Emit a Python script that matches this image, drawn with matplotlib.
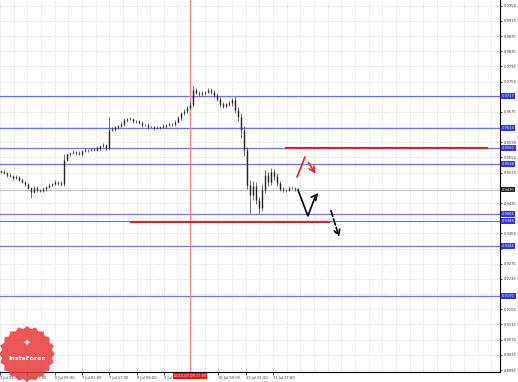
import numpy as np
import matplotlib.pyplot as plt
from matplotlib.patches import Polygon

# closes of the hourly bars (approximate)
closes = [0.9517, 0.9514, 0.9509, 0.9506, 0.9501, 0.9504, 0.9496, 0.9490, 0.9485, 0.9475,
          0.9464, 0.9475, 0.9469, 0.9467, 0.9472, 0.9477, 0.9483, 0.9485, 0.9490, 0.9488,
          0.9485, 0.9548, 0.9564, 0.9567, 0.9569, 0.9567, 0.9564, 0.9572, 0.9575, 0.9575,
          0.9577, 0.9575, 0.9580, 0.9585, 0.9588, 0.9580, 0.9627, 0.9630, 0.9635, 0.9638,
          0.9643, 0.9654, 0.9656, 0.9656, 0.9651, 0.9651, 0.9646, 0.9641, 0.9641, 0.9635,
          0.9635, 0.9633, 0.9633, 0.9635, 0.9638, 0.9641, 0.9643, 0.9643, 0.9649, 0.9659,
          0.9672, 0.9678, 0.9685, 0.9693, 0.9733, 0.9725, 0.9722, 0.9725, 0.9728, 0.9733,
          0.9728, 0.9720, 0.9709, 0.9696, 0.9691, 0.9696, 0.9699, 0.9707, 0.9680, 0.9662,
          0.9627, 0.9575, 0.9483, 0.9456, 0.9480, 0.9443, 0.9422, 0.9469, 0.9509, 0.9490,
          0.9517, 0.9506, 0.9488, 0.9472, 0.9469, 0.9469, 0.9475, 0.9475, 0.9472, 0.9470]
first_open = 0.9519
# wicks in pips above / below the body
wick_up = [3, 4, 2, 5, 3, 4, 2, 6, 3, 4, 3, 5, 4, 3, 6, 3, 4, 2, 5, 3,
           4, 16, 4, 3, 5, 2, 4, 3, 5, 3, 4, 2, 5, 3, 4, 3, 35, 5, 4, 3,
           5, 4, 3, 6, 3, 4, 2, 5, 3, 4, 3, 2, 5, 3, 4, 3, 5, 4, 6, 5,
           4, 6, 5, 7, 10, 6, 4, 5, 3, 4, 5, 4, 6, 5, 4, 3, 5, 6, 8, 7,
           9, 10, 8, 12, 14, 10, 9, 16, 12, 8, 10, 9, 7, 5, 4, 3, 4, 5, 3, 2]
wick_dn = [4, 3, 5, 3, 6, 2, 4, 3, 5, 4, 16, 3, 5, 4, 3, 5, 2, 4, 3, 5,
           4, 6, 3, 4, 2, 5, 3, 4, 3, 5, 2, 4, 3, 5, 3, 4, 5, 3, 4, 5,
           3, 4, 6, 3, 5, 4, 3, 5, 2, 4, 3, 5, 4, 3, 2, 4, 3, 5, 4, 3,
           5, 4, 6, 5, 4, 3, 5, 4, 6, 3, 5, 6, 4, 7, 5, 6, 4, 8, 9, 12,
           20, 15, 10, 47, 12, 10, 13, 9, 8, 10, 7, 9, 8, 6, 5, 4, 3, 4, 5, 3]

levels = [0.9717, 0.9633, 0.9580, 0.9538, 0.9406, 0.9388, 0.9322, 0.9190]
red_upper = (0.9580, 94.7, 162.3)
red_lower = (0.9385, 43.0, 109.7)
marker_bar = 63
marker_label = '2015.07.09 17:00'

red_path_up = ([98.7, 101.3], [0.9504, 0.9556])
red_path_dn = ([102.0, 105.3], [0.9548, 0.9506])
black_path = ([99.0, 102.3, 104.7, 106.3], [0.9469, 0.9401, 0.9451, 0.9467])
black_dash = ([109.7, 113.0], [0.9422, 0.9338])

price_ticks = np.arange(0.8995, 0.99551, 0.004)
time_labels = ['3 Jul 01:00', '3 Jul 17:00', '6 Jul 09:00', '7 Jul 01:00', '7 Jul 17:00',
               '8 Jul 09:00', '9 Jul 01:00', '9 Jul 17:00', '10 Jul 09:00', '13 Jul 01:00',
               '13 Jul 17:00']
time_start, time_step = -0.33, 9.1

W, H = 518, 382
fs = 2.6
fig = plt.figure(figsize=(W / 100, H / 100), dpi=100)
ax = fig.add_axes([0, 10 / H, 500 / W, 372 / H])
ax.set_xlim(-1 / 3, 499 / 3)
ax.set_ylim(0.9970 - 0.0002635 * 372, 0.9970)

# grid
xt = time_start + time_step * np.arange(len(time_labels))
for x in np.arange(time_start, 170, time_step / 2):
    ax.axvline(x, color='#d4d4d4', lw=0.5, ls=(0, (2, 2)), zorder=0)
for p in price_ticks:
    ax.axhline(p, color='#d4d4d4', lw=0.5, ls=(0, (2, 2)), zorder=0)

# levels
for lv in levels:
    ax.axhline(lv, color='#7070ff', lw=0.9, zorder=1)
ax.hlines(red_upper[0], red_upper[1], red_upper[2], color='#ee1c1c', lw=1.5, zorder=3)
ax.hlines(red_lower[0], red_lower[1], red_lower[2], color='#ee1c1c', lw=1.5, zorder=3)
ax.axvline(marker_bar, color='#ff8080', lw=0.8, zorder=1)
ax.axhline(closes[-1], color='#c8c8c8', lw=0.8, zorder=1)

# bars
c = np.array(closes)
o = np.concatenate([[first_open], c[:-1]])
hi = np.maximum(o, c) + np.array(wick_up) * 0.0001
lo = np.minimum(o, c) - np.array(wick_dn) * 0.0001
idx = np.arange(len(c))
ax.vlines(idx, lo, hi, color='#333333', lw=0.5, zorder=4)
ax.vlines(idx, np.minimum(o, c), np.maximum(o, c) + 0.00005, color='#222222', lw=1.0, zorder=4)

# forecast arrows
ax.plot(*red_path_up, color='#ee1c1c', lw=1.2, zorder=5)
ax.annotate('', xy=(red_path_dn[0][1], red_path_dn[1][1]), xytext=(red_path_dn[0][0], red_path_dn[1][0]),
            arrowprops=dict(arrowstyle='->', color='#ee1c1c', lw=1.2), zorder=5)
ax.plot(black_path[0][:-1], black_path[1][:-1], color='black', lw=1.2, zorder=5)
ax.annotate('', xy=(black_path[0][-1], black_path[1][-1]), xytext=(black_path[0][-2], black_path[1][-2]),
            arrowprops=dict(arrowstyle='->', color='black', lw=1.2), zorder=5)
ax.annotate('', xy=(black_dash[0][1], black_dash[1][1]), xytext=(black_dash[0][0], black_dash[1][0]),
            arrowprops=dict(arrowstyle='->', color='black', lw=1.2, linestyle='--'), zorder=5)

# axes
for s in ['top', 'left']:
    ax.spines[s].set_visible(False)
ax.spines['right'].set_linewidth(0.8)
ax.spines['bottom'].set_linewidth(0.8)
ax.yaxis.tick_right()
ax.set_yticks(price_ticks)
# tick labels hidden under the level boxes
marked = levels + [closes[-1]]
ylabels = ['' if min(abs(p - m) for m in marked) < 0.0012 else f'{p:.4f}' for p in price_ticks]
ax.set_yticklabels(ylabels, fontsize=fs, color='#333333')
ax.tick_params(axis='y', length=1.5, width=0.5, pad=1)
ax.set_xticks(xt)
ax.set_xticklabels(['' if t == '9 Jul 17:00' else t for t in time_labels], fontsize=fs,
                   color='#333333', ha='left')
ax.tick_params(axis='x', length=2, width=0.5, pad=1)

tr = ax.get_yaxis_transform()
for lv in levels:
    ax.text(1.004, lv, f'{lv:.4f}', transform=tr, fontsize=fs, color='white', va='center',
            ha='left', bbox=dict(boxstyle='square,pad=0.2', fc='#3030ff', ec='none'), clip_on=False)
ax.text(1.004, closes[-1], f'{closes[-1]:.4f}', transform=tr, fontsize=fs, color='white',
        va='center', ha='left', bbox=dict(boxstyle='square,pad=0.2', fc='#202020', ec='none'),
        clip_on=False)
ax.text(marker_bar, -0.006, marker_label, transform=ax.get_xaxis_transform(), fontsize=fs,
        color='white', ha='center', va='top',
        bbox=dict(boxstyle='square,pad=0.25', fc='#ff1010', ec='none'), clip_on=False)

# logo seal
cx, cy, r = 27 / W, 1 - 354 / H, 28
ang = np.linspace(0, 2 * np.pi, 41)
rad = np.where(np.arange(41) % 2 == 0, r, r * 0.9)
pts = np.c_[cx + rad * np.cos(ang) / W, cy + rad * np.sin(ang) / H]
fig.patches.append(Polygon(pts, closed=True, transform=fig.transFigure, fc='#e8393a',
                           ec='none', alpha=0.85, zorder=10))
fig.text(cx, cy - 4 / H, 'InstaForex', fontsize=4.5, color='white', ha='center', va='center',
         fontweight='bold', zorder=11)
fig.text(cx, cy + 10 / H, '\u2726', fontsize=7, color='white', ha='center', va='center', zorder=11)

fig.savefig('out.png', dpi=100)
